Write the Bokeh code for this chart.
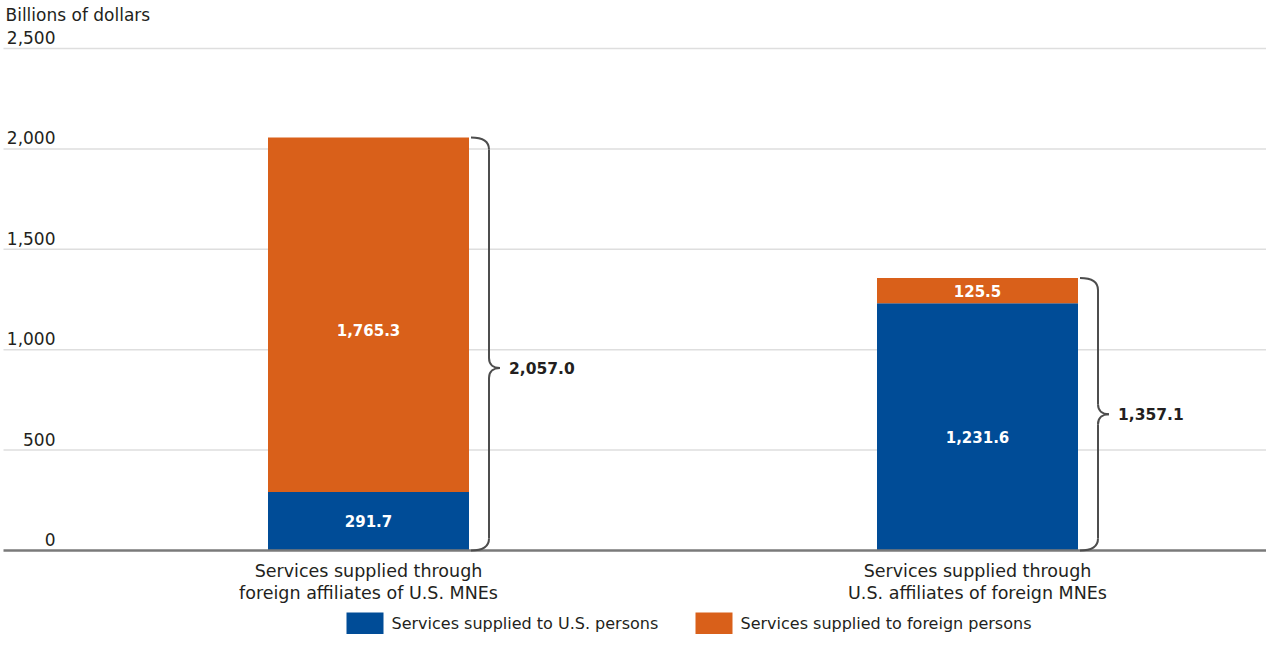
from bokeh.plotting import figure
from bokeh.models import ColumnDataSource, Range1d
from bokeh.core.properties import value
from bokeh.embed import file_html
from bokeh.resources import INLINE

# ---------------- data ----------------
categories = ["Services supplied through\nforeign affiliates of U.S. MNEs",
              "Services supplied through\nU.S. affiliates of foreign MNEs"]
series_names = ["Services supplied to U.S. persons", "Services supplied to foreign persons"]
us_persons = [291.7, 1231.6]
foreign_persons = [1765.3, 125.5]
totals = [2057.0, 1357.1]
y_ticks = [0, 500, 1000, 1500, 2000, 2500]
y_tick_labels = ["0", "500", "1,000", "1,500", "2,000", "2,500"]
y_title = "Billions of dollars"

# ---------------- style / layout ----------------
BLUE = "#004C97"
ORANGE = "#D9601A"
TXT = "#231f20"
FONT = "DejaVu Sans"
W, H = 1266, 634
PX_X = 609.0                 # pixels per category step
BAR_W = 201.0 / PX_X
BASE_PX, TOP_PX = 550.0, 48.0
KY = (BASE_PX - TOP_PX) / 2500.0
x_start = -368.0 / PX_X
x_end = x_start + W / PX_X
y_start = -(H - BASE_PX) / KY
y_end = 2500.0 + TOP_PX / KY
ux, uy = 1.0 / PX_X, 1.0 / KY


def dx(px):
    return x_start + px * ux


def dy(py):
    return y_end - py * uy


xs = list(range(len(categories)))

p = figure(width=W, height=H, x_range=Range1d(x_start, x_end), y_range=Range1d(y_start, y_end),
           output_backend="svg", toolbar_location=None, x_axis_location=None, y_axis_location=None,
           min_border=0, outline_line_color=None, background_fill_color="white",
           border_fill_color="white")
p.grid.visible = False

# gridlines
grid_vals = [t for t in y_ticks if t > 0]
p.segment(x0=[dx(3)] * len(grid_vals), x1=[x_end] * len(grid_vals), y0=grid_vals, y1=grid_vals,
          line_color="#dedede", line_width=1.5)

# bars
src = ColumnDataSource(dict(
    x=xs, us=us_persons, fr=foreign_persons,
    top_fr=[a + b for a, b in zip(us_persons, foreign_persons)],
    zero=[0] * len(xs)))
p.vbar(x="x", width=BAR_W, bottom="zero", top="us", source=src, fill_color=BLUE, line_color=None)
p.vbar(x="x", width=BAR_W, bottom="us", top="top_fr", source=src, fill_color=ORANGE, line_color=None)

# baseline
p.segment(x0=[dx(3)], x1=[x_end], y0=[0], y1=[0], line_color="#7a7a7a", line_width=2.5)

# in-bar labels
us_shift_px = [0, 10]
fr_shift_px = [15, 0]
lab_x, lab_y, lab_t = [], [], []
for i in xs:
    lab_x.append(i); lab_y.append(us_persons[i] / 2 - us_shift_px[i] * uy)
    lab_t.append(f"{us_persons[i]:,.1f}")
    lab_x.append(i); lab_y.append(us_persons[i] + foreign_persons[i] / 2 - fr_shift_px[i] * uy)
    lab_t.append(f"{foreign_persons[i]:,.1f}")
p.text(x=lab_x, y=lab_y, text=lab_t, text_color="white", text_font=value(FONT),
       text_font_style="bold", text_font_size="15px", text_align="center", text_baseline="middle")

# braces
brace_tip_shift_px = [24, 0]
bz = dict(x0=[], y0=[], x1=[], y1=[], cx0=[], cy0=[], cx1=[], cy1=[])


def add_bz(a, b, c0, c1):
    bz["x0"].append(a[0]); bz["y0"].append(a[1])
    bz["x1"].append(b[0]); bz["y1"].append(b[1])
    bz["cx0"].append(c0[0]); bz["cy0"].append(c0[1])
    bz["cx1"].append(c1[0]); bz["cy1"].append(c1[1])


br_lx, br_ly, br_lt = [], [], []
for i in xs:
    R = i + BAR_W / 2
    T = totals[i]
    B = 0.0
    Ym = T / 2 - brace_tip_shift_px[i] * uy
    V = R + 20 * ux
    add_bz((R + 2 * ux, T), (V, T - 12 * uy), (R + 15 * ux, T), (V, T - 5 * uy))
    add_bz((V, T - 12 * uy), (V, Ym + 10 * uy), (V, T - 12 * uy), (V, Ym + 10 * uy))
    add_bz((V, Ym + 10 * uy), (R + 31 * ux, Ym), (V, Ym + 3 * uy), (R + 25 * ux, Ym))
    add_bz((R + 31 * ux, Ym), (V, Ym - 10 * uy), (R + 25 * ux, Ym), (V, Ym - 3 * uy))
    add_bz((V, Ym - 10 * uy), (V, B + 12 * uy), (V, Ym - 10 * uy), (V, B + 12 * uy))
    add_bz((V, B + 12 * uy), (R + 2 * ux, B), (V, B + 5 * uy), (R + 15 * ux, B))
    br_lx.append(R + 40 * ux); br_ly.append(Ym); br_lt.append(f"{totals[i]:,.1f}")

p.bezier(source=ColumnDataSource(bz), x0="x0", y0="y0", x1="x1", y1="y1",
         cx0="cx0", cy0="cy0", cx1="cx1", cy1="cy1", line_color="#4d4d4d", line_width=2)
p.text(x=br_lx, y=br_ly, text=br_lt, text_color=TXT, text_font=value(FONT),
       text_font_style="bold", text_font_size="15.5px", text_align="left", text_baseline="middle")

# y tick labels
p.text(x=[dx(55)] * len(y_ticks), y=y_ticks, text=y_tick_labels, text_color=TXT,
       text_font=value(FONT), text_font_size="17px", text_align="right",
       text_baseline="alphabetic", y_offset=-11)

# axis title
p.text(x=[dx(5)], y=[dy(14)], text=[y_title], text_color=TXT, text_font=value(FONT),
       text_font_size="17px", text_align="left", text_baseline="alphabetic")

# category labels
p.text(x=xs, y=[0] * len(xs), text=categories, text_color=TXT, text_font=value(FONT),
       text_font_size="17.5px", text_align="center", text_baseline="top", y_offset=10,
       text_line_height=1.1)

# legend (drawn)
leg_swatch_px = [364.5, 713.5]
leg_text_px = [391, 740]
leg_colors = [BLUE, ORANGE]
p.rect(x=[dx(v) for v in leg_swatch_px], y=[dy(627)] * 2, width=37, height=30,
       width_units="screen", height_units="screen", fill_color=leg_colors, line_color=None)
p.text(x=[dx(v) for v in leg_text_px], y=[dy(623)] * 2, text=series_names, text_color=TXT,
       text_font=value(FONT), text_font_size="16px", text_align="left", text_baseline="middle")

open("out.html", "w").write(file_html(p, INLINE))
